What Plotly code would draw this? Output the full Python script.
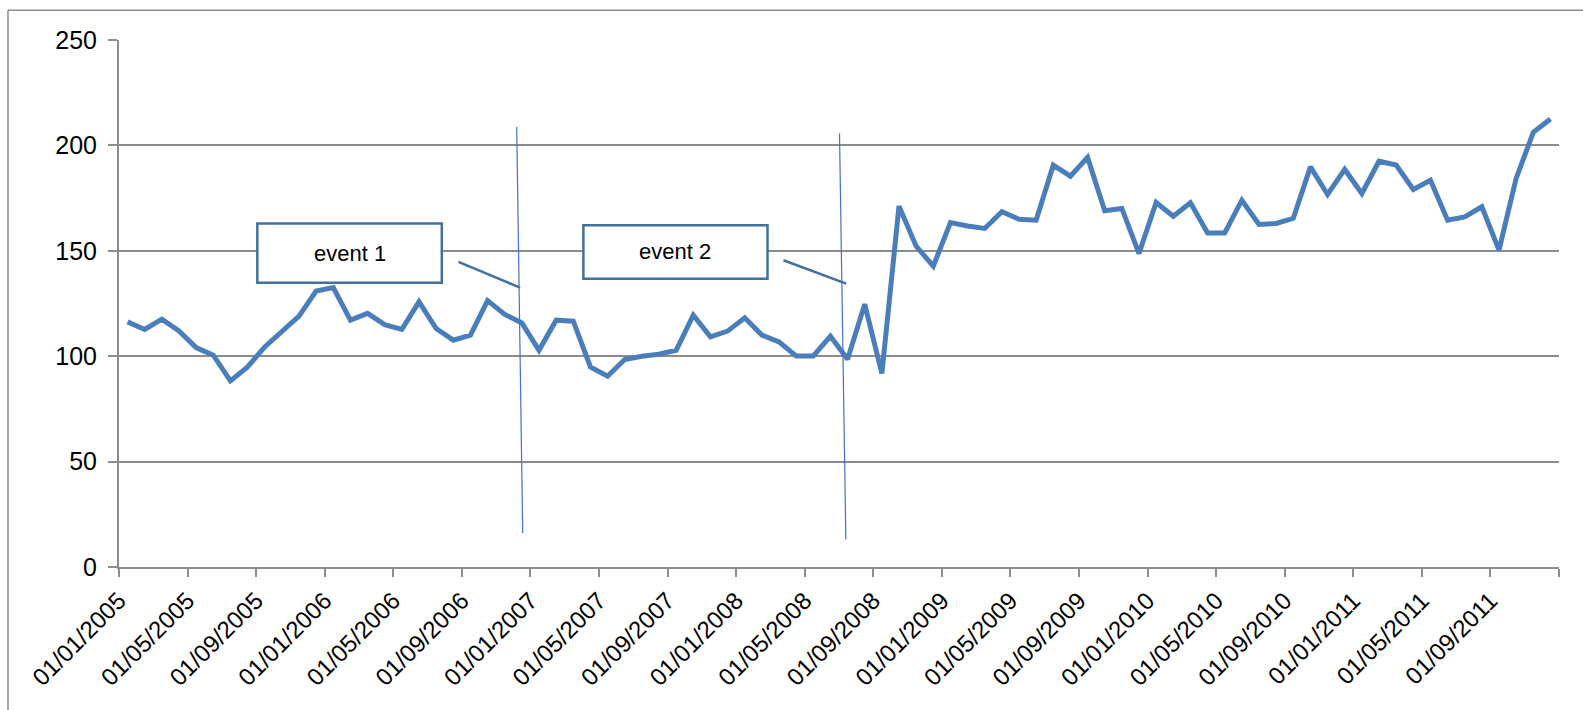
import plotly.graph_objects as go

# Monthly series, Jan 2005 .. Dec 2011
values = [
    116.3, 112.7, 117.6, 112.0, 104.1, 100.5, 88.3, 94.9, 104.4, 111.5, 119.0, 130.9,
    132.6, 117.1, 120.3, 115.0, 112.7, 125.8, 113.1, 107.6, 110.0, 126.4, 119.8, 115.8,
    102.8, 117.1, 116.6, 94.9, 90.5, 98.4, 100.0, 100.9, 102.8, 119.5, 109.2, 111.9,
    118.2, 110.0, 106.8, 100.1, 100.1, 109.5, 98.6, 124.7, 91.8, 171.2, 152.2, 142.7,
    163.4, 161.8, 160.6, 168.5, 165.0, 164.5, 190.6, 185.4, 194.3, 169.0, 170.1, 148.7,
    172.9, 166.4, 172.8, 158.5, 158.5, 174.0, 162.5, 163.0, 165.4, 189.8, 176.7, 188.6,
    177.2, 192.5, 190.7, 179.1, 183.5, 164.5, 166.1, 170.9, 150.3, 184.3, 206.2, 212.5,
]
tick_labels = [
    "01/01/2005", "01/05/2005", "01/09/2005",
    "01/01/2006", "01/05/2006", "01/09/2006",
    "01/01/2007", "01/05/2007", "01/09/2007",
    "01/01/2008", "01/05/2008", "01/09/2008",
    "01/01/2009", "01/05/2009", "01/09/2009",
    "01/01/2010", "01/05/2010", "01/09/2010",
    "01/01/2011", "01/05/2011", "01/09/2011",
    "",
]
event_labels = ["event 1", "event 2"]
y_ticks = [0, 50, 100, 150, 200, 250]

x = list(range(len(values)))
tickvals = [i * 4 - 0.5 for i in range(len(tick_labels))]

GRID = "#8c8c8c"
LINE = "#4a7ebb"
BOX = "#41719c"
VLINE = "#4472c4"
FONT = "Liberation Sans"

fig = go.Figure()
fig.add_trace(go.Scatter(x=x, y=values, mode="lines",
                         line=dict(color=LINE, width=5), showlegend=False,
                         hoverinfo="skip"))

# event boxes (data coords) and connectors
boxes = [(7.57, 18.33, 134.9, 162.9), (26.59, 37.33, 136.8, 162.1)]
connectors = [((19.30, 144.7), (22.90, 132.5)), ((38.26, 145.5), (41.92, 134.4))]
vlines = [((22.70, 208.7), (23.05, 16.1)), ((41.53, 205.6), (41.90, 13.0))]

shapes = []
annotations = []
for (x0, x1, y0, y1), lab in zip(boxes, event_labels):
    shapes.append(dict(type="rect", xref="x", yref="y", x0=x0, x1=x1, y0=y0, y1=y1,
                       fillcolor="white", line=dict(color=BOX, width=2.5), layer="above"))
    annotations.append(dict(x=(x0 + x1) / 2, y=(y0 + y1) / 2, xref="x", yref="y",
                            text=lab, showarrow=False,
                            font=dict(family=FONT, size=22, color="black")))
for (a, b) in connectors:
    shapes.append(dict(type="line", xref="x", yref="y", x0=a[0], y0=a[1], x1=b[0], y1=b[1],
                       line=dict(color=BOX, width=2.5), layer="above"))
for (a, b) in vlines:
    shapes.append(dict(type="line", xref="x", yref="y", x0=a[0], y0=a[1], x1=b[0], y1=b[1],
                       line=dict(color=VLINE, width=1.2), layer="above"))

# outer chart border (left and top visible)
shapes.append(dict(type="line", xref="paper", yref="paper", x0=-0.0771, x1=-0.0771,
                   y0=1.0564, y1=-0.4, line=dict(color=GRID, width=1.5)))
shapes.append(dict(type="line", xref="paper", yref="paper", x0=-0.0771, x1=1.1,
                   y0=1.0564, y1=1.0564, line=dict(color=GRID, width=1.5)))

fig.update_layout(
    width=1583, height=710,
    margin=dict(l=119, r=24, t=40, b=143, pad=0),
    paper_bgcolor="white", plot_bgcolor="white",
    shapes=shapes, annotations=annotations,
    font=dict(family=FONT, size=24, color="black"),
    xaxis=dict(range=[-0.5, 83.5], tickmode="array", tickvals=tickvals, ticktext=tick_labels,
               tickangle=-45, showgrid=False, zeroline=False, showline=True,
               linecolor=GRID, linewidth=2, ticks="outside", ticklen=8, tickwidth=2,
               tickcolor=GRID, tickfont=dict(family=FONT, size=24, color="black")),
    yaxis=dict(range=[0, 250], tickmode="array", tickvals=y_ticks, showgrid=True,
               gridcolor=GRID, gridwidth=1.5, zeroline=False, showline=True,
               linecolor=GRID, linewidth=2, ticks="outside", ticklen=9, tickwidth=2,
               tickcolor=GRID, ticklabelstandoff=6,
               tickfont=dict(family=FONT, size=25, color="black")),
)

fig.write_html("out.html")
